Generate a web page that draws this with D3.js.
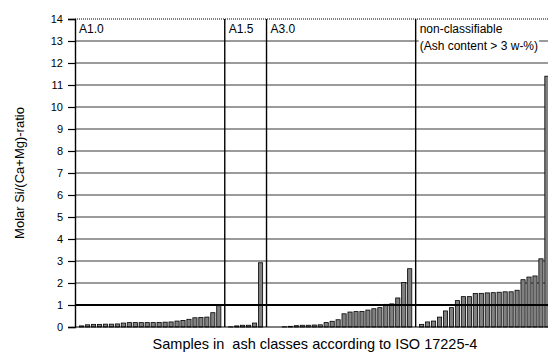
<!DOCTYPE html>
<html>
<head>
<meta charset="utf-8">
<script src="https://cdn.jsdelivr.net/npm/d3@7"></script>
<style>
  html, body { margin: 0; padding: 0; background: #fff; }
  svg { display: block; font-family: "Liberation Sans", Arial, sans-serif; }
</style>
</head>
<body>
<svg id="chart" width="548" height="353"></svg>
<script>
// Ash classes and the molar Si/(Ca+Mg) ratio of each sample, sorted within a class
const classNames = ["A1.0", "A1.5", "A3.0", "non-classifiable"];
const valuesA10 = [0.05, 0.10, 0.12, 0.12, 0.13, 0.13, 0.14, 0.18, 0.20, 0.20, 0.20, 0.20,
                   0.20, 0.21, 0.22, 0.23, 0.27, 0.30, 0.35, 0.42, 0.43, 0.45, 0.65, 0.97];
const valuesA15 = [0.01, 0.05, 0.08, 0.08, 0.18, 2.92];
const valuesA30 = [0.00, 0.00, 0.01, 0.03, 0.06, 0.08, 0.08, 0.09, 0.10, 0.20, 0.26, 0.33,
                   0.60, 0.68, 0.70, 0.71, 0.77, 0.83, 0.88, 1.03, 1.05, 1.32, 2.02, 2.65];
const valuesNC  = [0.12, 0.23, 0.27, 0.45, 0.73, 0.88, 1.20, 1.38, 1.38, 1.52, 1.53, 1.55,
                   1.56, 1.58, 1.60, 1.60, 1.67, 2.15, 2.27, 2.32, 3.10, 11.40];
const yTicks = d3.range(0, 15);
const referenceRatio = 1;

const groups = [valuesA10, valuesA15, valuesA30, valuesNC];

// One category slot per sample, with an empty slot between classes for the divider
const slots = [];
const dividers = [];
groups.forEach((vals, g) => {
  if (g > 0) { dividers.push(slots.length); slots.push({ id: slots.length, gap: true }); }
  vals.forEach(v => slots.push({ id: slots.length, value: v, group: g }));
});

const svg = d3.select("#chart");
const plotLeft = 75, plotRight = 548, plotTop = 19, plotBottom = 327;

const x = d3.scaleBand().domain(slots.map(s => s.id)).range([79.5, 549]).paddingInner(0.3).paddingOuter(0);
const y = d3.scaleLinear().domain([0, 14]).range([plotBottom, plotTop]);

// Horizontal grid
svg.append("g").selectAll("line")
  .data(yTicks.filter(t => t > 0 && t < 14 && t !== referenceRatio))
  .join("line")
  .attr("x1", plotLeft).attr("x2", plotRight)
  .attr("y1", d => y(d)).attr("y2", d => y(d))
  .attr("stroke", "#7a7a7a").attr("stroke-width", 1.3);

// Top border
svg.append("line")
  .attr("x1", plotLeft).attr("x2", plotRight).attr("y1", y(14)).attr("y2", y(14))
  .attr("stroke", "#000").attr("stroke-width", 1.2).attr("stroke-dasharray", "1,1");

// Bars
svg.append("g").selectAll("rect")
  .data(slots.filter(s => !s.gap))
  .join("rect")
  .attr("x", d => x(d.id))
  .attr("width", x.bandwidth())
  .attr("y", d => y(d.value))
  .attr("height", d => y(0) - y(d.value))
  .attr("fill", "#808080")
  .attr("stroke", "#000").attr("stroke-width", 0.8);

// Reference ratio line
svg.append("line")
  .attr("x1", plotLeft).attr("x2", plotRight)
  .attr("y1", y(referenceRatio)).attr("y2", y(referenceRatio))
  .attr("stroke", "#000").attr("stroke-width", 2);

// Class dividers
svg.append("g").selectAll("line")
  .data(dividers)
  .join("line")
  .attr("x1", d => x(d) + x.bandwidth() / 2).attr("x2", d => x(d) + x.bandwidth() / 2)
  .attr("y1", y(14)).attr("y2", y(0))
  .attr("stroke", "#000").attr("stroke-width", 1.4);

// Baseline
svg.append("line")
  .attr("x1", plotLeft).attr("x2", plotRight).attr("y1", y(0)).attr("y2", y(0))
  .attr("stroke", "#000").attr("stroke-width", 1.2);

// Y axis
const yAxis = svg.append("g")
  .attr("transform", `translate(${plotLeft},0)`)
  .call(d3.axisLeft(y).tickValues(yTicks).tickSize(7).tickPadding(5));
yAxis.select(".domain").attr("stroke", "#000").attr("stroke-width", 1.4);
yAxis.selectAll(".tick line").attr("stroke", "#000").attr("stroke-width", 1.2);
yAxis.selectAll(".tick text").attr("font-size", 11).attr("fill", "#000")
  .attr("font-family", "Liberation Sans, Arial, sans-serif");

// Class labels
const labelX = g => {
  const start = g === 0 ? plotLeft : x(dividers[g - 1]) + x.bandwidth() / 2;
  return start + 4;
};
const labels = svg.append("g").attr("font-size", 12).attr("fill", "#000");
classNames.forEach((name, g) => {
  labels.append("text").attr("x", labelX(g)).attr("y", 33).text(name);
});
// Second line of the last label sits on a white box over the grid
const ncX = labelX(3);
const sub = labels.append("text").attr("x", ncX).attr("y", 49.5).text("(Ash content > 3 w-%)");
const bb = sub.node().getBBox();
labels.insert("rect", "text:last-child")
  .attr("x", bb.x - 1).attr("y", bb.y).attr("width", bb.width + 2).attr("height", bb.height)
  .attr("fill", "#fff");

// Axis titles
svg.append("text")
  .attr("transform", "translate(24,173) rotate(-90)")
  .attr("text-anchor", "middle").attr("font-size", 13)
  .text("Molar Si/(Ca+Mg)-ratio");
svg.append("text")
  .attr("x", 315).attr("y", 349)
  .attr("text-anchor", "middle").attr("font-size", 14.5)
  .style("white-space", "pre")
  .text("Samples in  ash classes according to ISO 17225-4");
</script>
</body>
</html>
